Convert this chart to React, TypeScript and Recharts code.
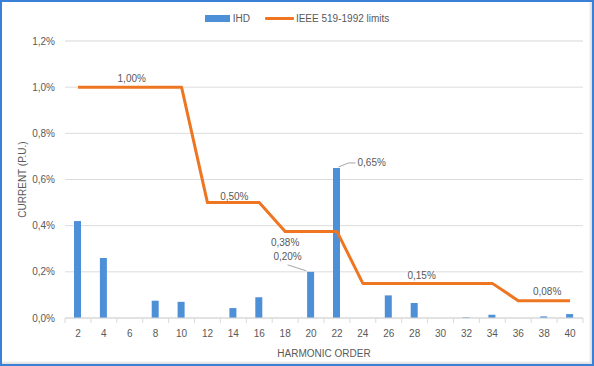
import React from 'react';
import {
  ComposedChart,
  Bar,
  Line,
  XAxis,
  YAxis,
  CartesianGrid,
  Legend,
  LabelList,
} from 'recharts';

const CATEGORIES = ['2', '4', '6', '8', '10', '12', '14', '16', '18', '20', '22', '24', '26', '28', '30', '32', '34', '36', '38', '40'];
const IHD_VALUES = [0.42, 0.26, 0, 0.075, 0.07, 0, 0.043, 0.09, 0, 0.2, 0.65, 0, 0.098, 0.065, 0, 0.003, 0.014, 0, 0.007, 0.017];
const LIMIT_VALUES = [1, 1, 1, 1, 1, 0.5, 0.5, 0.5, 0.375, 0.375, 0.375, 0.15, 0.15, 0.15, 0.15, 0.15, 0.15, 0.075, 0.075, 0.075];
const Y_TICKS = [0, 0.2, 0.4, 0.6, 0.8, 1.0, 1.2];
const MINOR_TICKS = [0, 0.04, 0.08, 0.12, 0.16, 0.2, 0.24, 0.28, 0.32, 0.36, 0.4, 0.44, 0.48, 0.52, 0.56, 0.6, 0.64, 0.68, 0.72, 0.76, 0.8, 0.84, 0.88, 0.92, 0.96, 1.0, 1.04, 1.08, 1.12, 1.16, 1.2];
const LIMIT_LABEL_CATEGORIES = ['6', '14', '18', '28', '38'];
const IHD_LABEL_CATEGORIES = ['20', '22'];

const SERIES_IHD = 'IHD';
const SERIES_LIMIT = 'IEEE 519-1992 limits';
const Y_TITLE = 'CURRENT (P.U.)';
const X_TITLE = 'HARMONIC ORDER';

const data = CATEGORIES.map((c, i) => ({
  order: c,
  ihd: IHD_VALUES[i],
  limit: LIMIT_VALUES[i],
  ihdLabel: IHD_LABEL_CATEGORIES.includes(c) ? c : null,
}));

const TEXT = '#595959';
const FONT = '"Liberation Sans", Arial, sans-serif';
const BLUE = '#4e90d7';
const ORANGE = '#ee7623';

const fmtPct2 = (v: number) => (Math.round(v * 100 + 1e-6) / 100).toFixed(2).replace('.', ',') + '%';
const fmtPct1 = (v: number) => v.toFixed(1).replace('.', ',') + '%';

const limitLabelOffsets: Record<string, { dx: number; dy: number }> = {
  '6': { dx: 2, dy: -9 },
  '14': { dx: 1, dy: -6 },
  '18': { dx: 0, dy: 11 },
  '28': { dx: 7, dy: -8 },
  '38': { dx: 3, dy: -9 },
};

const renderLimitLabel = (props: any) => {
  const { x, y, index, value } = props;
  const cat = CATEGORIES[index];
  if (!LIMIT_LABEL_CATEGORIES.includes(cat)) return null;
  const o = limitLabelOffsets[cat];
  return (
    <text
      key={`ll-${index}`}
      x={x + o.dx}
      y={y + o.dy}
      textAnchor="middle"
      dominantBaseline="central"
      fill={TEXT}
      fontSize={10}
      fontFamily={FONT}
    >
      {fmtPct2(value)}
    </text>
  );
};

const renderIhdLabel = (props: any) => {
  const { x, y, width, value } = props;
  const cat = value;
  if (cat == null || !IHD_LABEL_CATEGORIES.includes(String(cat))) return null;
  const v = IHD_VALUES[CATEGORIES.indexOf(String(cat))];
  const cx = x + width / 2;
  if (String(cat) === '20') {
    return (
      <g key={`bl-${cat}`}>
        <line x1={cx - 23} y1={y - 7} x2={cx - 4.3} y2={y - 1} stroke="#a6a6a6" strokeWidth={1} />
        <text x={cx - 23} y={y - 15} textAnchor="middle" dominantBaseline="central" fill={TEXT} fontSize={10} fontFamily={FONT}>
          {fmtPct2(v)}
        </text>
      </g>
    );
  }
  return (
    <g key={`bl-${cat}`}>
      <polyline
        points={`${cx + 2},${y - 1} ${cx + 12},${y - 5} ${cx + 19},${y - 5}`}
        fill="none"
        stroke="#a6a6a6"
        strokeWidth={1}
      />
      <text x={cx + 21} y={y - 5} textAnchor="start" dominantBaseline="central" fill={TEXT} fontSize={10} fontFamily={FONT}>
        {fmtPct2(v)}
      </text>
    </g>
  );
};

const XTick = (props: any) => {
  const { x, y, payload, index } = props;
  const half = payload && typeof payload.offset === 'number' && payload.offset > 0 ? payload.offset : 12.95;
  const last = index === CATEGORIES.length - 1;
  return (
    <g>
      <line x1={x - half} y1={y} x2={x - half} y2={y + 5} stroke="#d9d9d9" strokeWidth={1} />
      {last && <line x1={x + half} y1={y} x2={x + half} y2={y + 5} stroke="#d9d9d9" strokeWidth={1} />}
      <text x={x} y={y + 15} textAnchor="middle" dominantBaseline="central" fill={TEXT} fontSize={10} fontFamily={FONT}>
        {payload.value}
      </text>
    </g>
  );
};

const YTick = (props: any) => {
  const { x, y, payload } = props;
  return (
    <text x={x} y={y} textAnchor="end" dominantBaseline="central" fill={TEXT} fontSize={10} fontFamily={FONT}>
      {fmtPct1(payload.value)}
    </text>
  );
};

const renderLegend = (props: any) => {
  const payload = [...(props.payload || [])].sort((a: any, b: any) => {
    const ra = a.type === 'line' ? 1 : 0;
    const rb = b.type === 'line' ? 1 : 0;
    return ra - rb;
  });
  return (
    <div style={{ display: 'flex', justifyContent: 'center', alignItems: 'center', height: 14, fontFamily: FONT, fontSize: 10, color: TEXT }}>
      {payload.map((entry: any, i: number) => (
        <div key={i} style={{ display: 'flex', alignItems: 'center', marginLeft: i === 0 ? 0 : 15 }}>
          {entry.type === 'line' ? (
            <span style={{ display: 'inline-block', width: 29, height: 3, background: entry.color, marginRight: 2, borderRadius: 1 }} />
          ) : (
            <span style={{ display: 'inline-block', width: 25, height: 7, background: entry.color, marginRight: 3 }} />
          )}
          <span>{entry.value}</span>
        </div>
      ))}
    </div>
  );
};

export default function App() {
  return (
    <div style={{ position: 'absolute', left: 0, top: 0, width: 594, height: 366, background: '#ffffff', fontFamily: FONT }}>
      <ComposedChart
        width={594}
        height={366}
        data={data}
        margin={{ top: 27, right: 11, left: 0, bottom: 0 }}
        barCategoryGap={0}
      >
        <CartesianGrid yAxisId="minor" vertical={false} stroke="#f2f2f2" strokeWidth={1} />
        <CartesianGrid yAxisId="main" vertical={false} stroke="#dcdcdc" strokeWidth={1} />
        <XAxis
          dataKey="order"
          tickSize={0}
          tickMargin={0}
          tickLine={false}
          axisLine={{ stroke: '#d9d9d9' }}
          interval={0}
          height={48}
          tick={<XTick />}
          label={(p: any) => {
            const vb = p.viewBox || {};
            return (
              <text
                x={vb.x + vb.width / 2}
                y={353}
                textAnchor="middle"
                dominantBaseline="central"
                fill={TEXT}
                fontSize={10}
                fontFamily={FONT}
              >
                {X_TITLE}
              </text>
            );
          }}
        />
        <YAxis
          yAxisId="main"
          domain={[0, 1.2]}
          ticks={Y_TICKS}
          width={65}
          axisLine={false}
          tickLine={false}
          tickSize={6}
          tickMargin={4}
          tick={<YTick />}
          label={(p: any) => {
            const vb = p.viewBox || {};
            const cy = vb.y + vb.height / 2;
            return (
              <text
                x={22}
                y={cy}
                transform={`rotate(-90, 22, ${cy})`}
                textAnchor="middle"
                dominantBaseline="central"
                fill={TEXT}
                fontSize={10}
                fontFamily={FONT}
              >
                {Y_TITLE}
              </text>
            );
          }}
        />
        <YAxis yAxisId="minor" domain={[0, 1.2]} ticks={MINOR_TICKS} hide />
        <Legend verticalAlign="top" content={renderLegend} wrapperStyle={{ top: 11, left: 0, width: 594 }} />
        <Bar yAxisId="main" dataKey="ihd" name={SERIES_IHD} fill={BLUE} barSize={7} isAnimationActive={false}>
          <LabelList dataKey="ihdLabel" content={renderIhdLabel} />
        </Bar>
        <Line
          yAxisId="main"
          dataKey="limit"
          name={SERIES_LIMIT}
          stroke={ORANGE}
          strokeWidth={3}
          dot={false}
          type="linear"
          strokeLinejoin="round"
          isAnimationActive={false}
        >
          <LabelList dataKey="limit" content={renderLimitLabel} />
        </Line>
      </ComposedChart>
      <div
        style={{
          position: 'absolute',
          left: 0,
          top: 0,
          width: 594,
          height: 366,
          boxSizing: 'border-box',
          border: '2px solid #3a80d6',
          boxShadow: 'inset -2px -2px 2px rgba(0,0,0,0.12)',
          pointerEvents: 'none',
        }}
      />
    </div>
  );
}
